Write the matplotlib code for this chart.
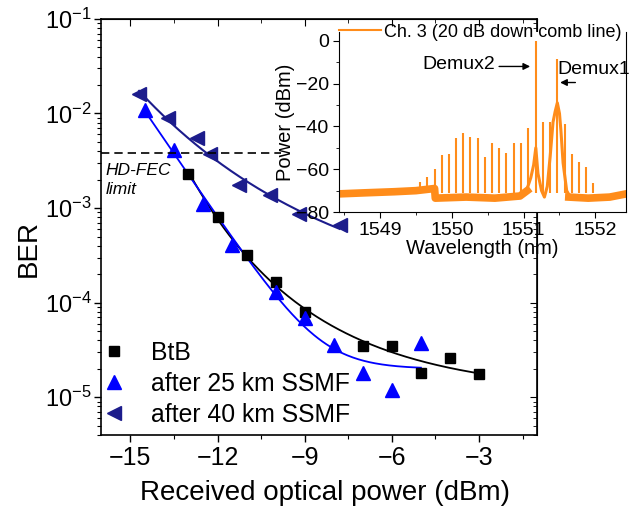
import numpy as np
import matplotlib
matplotlib.use('Agg')
import matplotlib.pyplot as plt
from matplotlib.lines import Line2D
from matplotlib.ticker import MultipleLocator, LogLocator, NullFormatter

plt.rcParams['font.family'] = ['Liberation Sans', 'DejaVu Sans']
plt.rcParams['mathtext.fontset'] = 'custom'
plt.rcParams['mathtext.rm'] = 'Liberation Sans'

# BER measurements
btb_x = [-13, -12, -11, -10, -9, -7, -6, -5, -4, -3]
btb_ber = [2.3e-3, 8.0e-4, 3.2e-4, 1.65e-4, 7.9e-5, 3.5e-5, 3.5e-5, 1.8e-5, 2.6e-5, 1.75e-5]

km25_x = [-14.5, -13.5, -12.5, -11.5, -10, -9, -8, -7, -6, -5]
km25_ber = [1.1e-2, 4.1e-3, 1.1e-3, 4.1e-4, 1.3e-4, 6.9e-5, 3.6e-5, 1.8e-5, 1.2e-5, 3.7e-5]

km40_x = [-14.7, -13.7, -12.7, -12.25, -11.25, -10.2, -9.2, -7.8]
km40_ber = [1.6e-2, 8.9e-3, 5.5e-3, 3.7e-3, 1.75e-3, 1.37e-3, 8.7e-4, 6.6e-4]

hd_fec = 3.8e-3

# inset spectrum: noise floor, pedestals around the demux lines, comb lines
floor_l_wl = [1548.43, 1548.8, 1549.2, 1549.5, 1549.76, 1549.77, 1550.2, 1550.6, 1550.95, 1551.05]
floor_l_pw = [-71.5, -71, -70.5, -70, -69, -73.5, -73, -73.5, -72.5, -70]
ped_wl = [1551.0, 1551.05, 1551.1, 1551.14, 1551.17, 1551.2, 1551.25, 1551.29, 1551.33,
          1551.37, 1551.41, 1551.44, 1551.47, 1551.5, 1551.52, 1551.55, 1551.6, 1551.65]
ped_pw = [-72, -69, -64, -58, -50, -62, -70, -73, -68,
          -54, -38, -33, -29, -34, -42, -57, -70, -73]
floor_r_wl = [1551.63, 1551.9, 1552.2, 1552.43]
floor_r_pw = [-73, -73.5, -73, -71.5]

comb_wl = [1549.56, 1549.66, 1549.76, 1549.86, 1549.96, 1550.06, 1550.16, 1550.26,
           1550.36, 1550.46, 1550.56, 1550.66, 1550.76, 1550.86, 1550.96, 1551.06,
           1551.17, 1551.27, 1551.37, 1551.47, 1551.57, 1551.67, 1551.77, 1551.87, 1551.97]
comb_pw = [-65.8, -63.5, -60, -53.3, -52.9, -45.2, -43.2, -44.8,
           -45.2, -54.4, -47.9, -50.2, -52.6, -47.6, -47.6, -40.6,
           -0.3, -38, -37.8, -8.6, -38.8, -52.9, -56.5, -59.1, -66.3]

black = 'black'
blue = '#0000ff'
navy = '#1c1c8c'
orange = '#ff8c1a'

fig = plt.figure(figsize=(6.41, 5.11), dpi=100)
ax = fig.add_axes([0.158, 0.149, 0.680, 0.814])


def fit_exp(x, y):
    # log10(BER) = a + b*exp(-c*x), c found by a simple scan
    x = np.asarray(x, float)
    ly = np.log10(y)
    best = None
    for c in np.linspace(0.05, 2.0, 400):
        A = np.column_stack([np.ones_like(x), np.exp(-c * (x - x.max()))])
        coef = np.linalg.lstsq(A, ly, rcond=None)[0]
        r = np.sum((A @ coef - ly) ** 2)
        if best is None or r < best[0]:
            best = (r, c, coef)
    _, c, coef = best
    xx = np.linspace(x.min(), x.max(), 200)
    return xx, 10 ** (coef[0] + coef[1] * np.exp(-c * (xx - x.max())))


def fit_floor(x, y):
    # BER = 10**(a + b*x) + floor, least squares on log10(BER) by grid scan
    x = np.asarray(x, float)
    ly = np.log10(y)
    a = np.linspace(-12, 0, 121)[:, None, None, None]
    b = np.linspace(-1.2, -0.05, 116)[None, :, None, None]
    f = np.linspace(-6.5, -3.5, 61)[None, None, :, None]
    model = np.log10(10 ** (a + b * x) + 10 ** f)
    err = np.sum((model - ly) ** 2, axis=-1)
    i, j, k = np.unravel_index(np.argmin(err), err.shape)
    aa, bb, ff = a[i, 0, 0, 0], b[0, j, 0, 0], f[0, 0, k, 0]
    xx = np.linspace(x.min(), x.max(), 200)
    return xx, 10 ** (aa + bb * xx) + 10 ** ff


xx, yy = fit_exp(btb_x, btb_ber)
ax.plot(xx, yy, color=black, lw=1.3)
xx, yy = fit_floor(km25_x, km25_ber)
ax.plot(xx, yy, color=blue, lw=1.3)
xx, yy = fit_exp(km40_x, km40_ber)
ax.plot(xx, yy, color=navy, lw=1.5)

ax.plot(btb_x, btb_ber, 's', color=black, ms=7.5, label='BtB')
ax.plot(km25_x, km25_ber, '^', color=blue, ms=10, label='after 25 km SSMF')
ax.plot(km40_x, km40_ber, '<', color=navy, ms=10, label='after 40 km SSMF')

ax.hlines(hd_fec, -16, -9.8, colors='black', linestyles=(0, (5, 3)), lw=1.2)
ax.text(-15.85, 3.0e-3, 'HD-FEC\nlimit', style='italic', fontsize=12.5,
        va='top', ha='left', linespacing=1.3)

ax.set_yscale('log')
ax.set_xlim(-16, -1)
ax.set_ylim(4e-6, 1e-1)
ax.xaxis.set_major_locator(MultipleLocator(3))
ax.xaxis.set_minor_locator(MultipleLocator(1.5))
ax.yaxis.set_major_locator(LogLocator(base=10, numticks=10))
ax.yaxis.set_minor_locator(LogLocator(base=10, subs=np.arange(2, 10), numticks=20))
ax.yaxis.set_minor_formatter(NullFormatter())
ax.tick_params(axis='both', which='major', labelsize=18, direction='out', length=5, width=1)
ax.tick_params(axis='x', which='major', pad=3)
ax.tick_params(axis='y', which='major', labelsize=17, pad=2)
ax.tick_params(axis='both', which='minor', direction='out', length=3, width=0.8)
for s in ax.spines.values():
    s.set_linewidth(1.2)

# mirrored ticks on top/right pointing inward
axt = ax.secondary_xaxis('top')
axt.set_xticks([-15, -12, -9, -6, -3])
axt.xaxis.set_minor_locator(MultipleLocator(1.5))
axt.tick_params(which='major', direction='in', length=5, labeltop=False)
axt.tick_params(which='minor', direction='in', length=3)
axr = ax.secondary_yaxis('right')
axr.yaxis.set_minor_locator(LogLocator(base=10, subs=np.arange(2, 10), numticks=20))
axr.tick_params(which='major', direction='in', length=5, labelright=False)
axr.tick_params(which='minor', direction='in', length=3)
axr.yaxis.set_minor_formatter(NullFormatter())

ax.set_xlabel('Received optical power (dBm)', fontsize=20, labelpad=8)
ax.xaxis.set_label_coords(0.514, -0.108)
ax.set_ylabel('BER', fontsize=20)
ax.yaxis.set_label_coords(-0.137, 0.447)

ax.legend(loc='lower left', bbox_to_anchor=(0.0, 0.008), frameon=False, fontsize=17.8,
          handlelength=0.6, handletextpad=1.22, labelspacing=0.28, borderpad=0.2,
          borderaxespad=0)

# inset spectrum
ins = fig.add_axes([0.529, 0.585, 0.448, 0.352])
ins.plot(floor_l_wl, floor_l_pw, color=orange, lw=5.5, solid_joinstyle='round')
ins.plot(floor_r_wl, floor_r_pw, color=orange, lw=5.5, solid_joinstyle='round')
ins.plot(ped_wl, ped_pw, color=orange, lw=2.2, solid_joinstyle='round')
ins.vlines(comb_wl, -71, comb_pw, colors=orange, lw=1.5)
ins.set_xlim(1548.43, 1552.43)
ins.set_ylim(-80, 4)
ins.xaxis.set_major_locator(MultipleLocator(1))
ins.xaxis.set_minor_locator(MultipleLocator(0.5))
ins.yaxis.set_major_locator(MultipleLocator(20))
ins.yaxis.set_minor_locator(MultipleLocator(10))
ins.tick_params(which='major', labelsize=14, direction='out', length=4)
ins.tick_params(which='minor', direction='out', length=2)
ins.spines['top'].set_visible(False)
ins.set_xlabel('Wavelength (nm)', fontsize=14.5, labelpad=0)
ins.set_ylabel('Power (dBm)', fontsize=14.5, labelpad=0)
ins.legend(handles=[Line2D([], [], color=orange, lw=1.5)],
           labels=['Ch. 3 (20 dB down comb line)'],
           loc='center left', bbox_to_anchor=(0.0, 1.0), frameon=False, fontsize=13,
           handlelength=2.3, handletextpad=0.2, borderpad=0, borderaxespad=0)

ins.annotate('', xy=(1551.13, -12), xytext=(1550.62, -12),
             arrowprops=dict(arrowstyle='-|>', color='black', lw=1, mutation_scale=10))
ins.text(1550.6, -11, 'Demux2', fontsize=14, ha='right', va='center')
ins.annotate('', xy=(1551.47, -19.5), xytext=(1551.76, -19.5),
             arrowprops=dict(arrowstyle='-|>', color='black', lw=1, mutation_scale=10))
ins.text(1551.47, -13.5, 'Demux1', fontsize=14, ha='left', va='center')

fig.savefig('out.png', dpi=100)
